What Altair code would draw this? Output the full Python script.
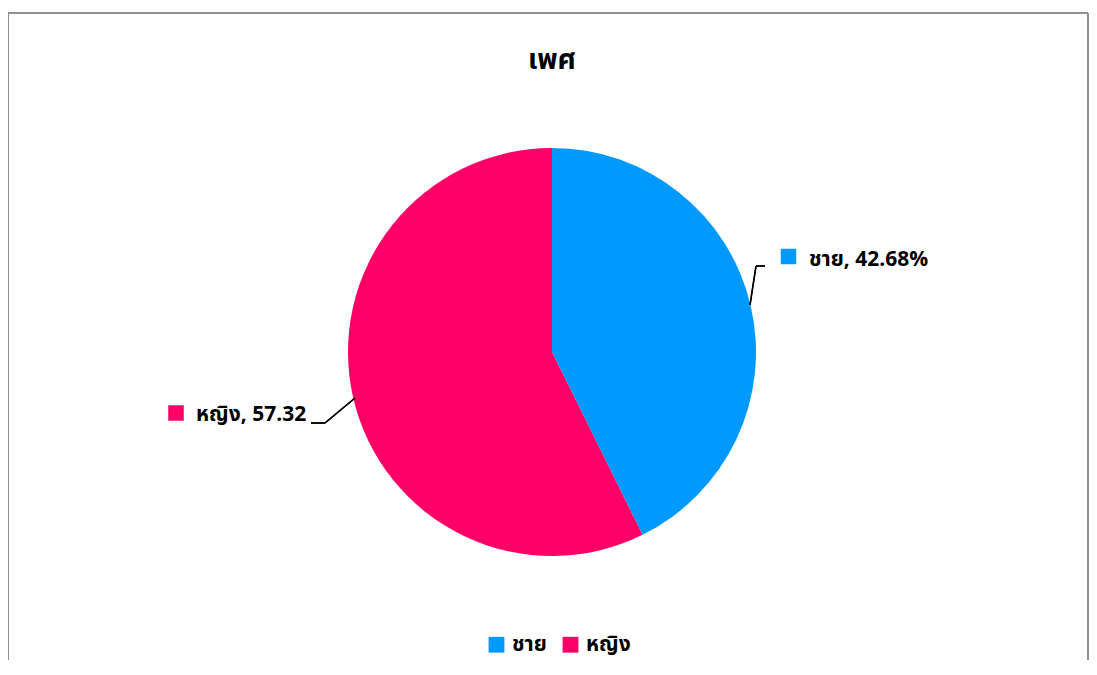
import altair as alt
import pandas as pd

categories = ["ชาย", "หญิง"]
values = [42.68, 57.32]
label_texts = ["ชาย, 42.68%", "หญิง, 57.32"]
colors = ["#0099FF", "#FF0066"]
title_text = "เพศ"

df = pd.DataFrame({"cat": categories, "val": values, "label": label_texts, "idx": [0, 1]})
base = alt.Chart(df)
FONT = "Noto Sans Thai, Noto Sans, sans-serif"

color = alt.Color("cat:N", scale=alt.Scale(domain=categories, range=colors),
                  legend=alt.Legend(title=None, orient="none", legendX=478, legendY=626,
                                    direction="horizontal", symbolType="square",
                                    symbolSize=250, symbolStrokeWidth=0,
                                    labelFontSize=21, labelFont=FONT, labelFontWeight="bold",
                                    labelColor="#000", labelOffset=5, columnPadding=13))

pie = base.mark_arc(outerRadius=204, stroke=None).encode(
    theta=alt.Theta("val:Q", stack=True),
    order=alt.Order("idx:Q"),
    color=color,
    x=alt.value(544), y=alt.value(344),
)

title = alt.Chart(pd.DataFrame({"t": [title_text]})).mark_text(
    font=FONT, fontSize=28, fontWeight="bold", color="#000", baseline="middle", align="center"
).encode(text="t:N", x=alt.value(544), y=alt.value(53))

layers = [pie, title]

# border (left, top, right)
bc = "#909090"
layers.append(alt.Chart(df).mark_rule(color=bc, strokeWidth=2).encode(
    x=alt.value(0), x2=alt.value(1080), y=alt.value(5)))
layers.append(alt.Chart(df).mark_rule(color=bc, strokeWidth=2).encode(
    x=alt.value(0), y=alt.value(5), y2=alt.value(680)))
layers.append(alt.Chart(df).mark_rule(color=bc, strokeWidth=2).encode(
    x=alt.value(1080), y=alt.value(5), y2=alt.value(680)))

# data labels
label_pos = {"ชาย": ((780.5, 248.5), (801, 252)), "หญิง": ((168, 405), (188, 407))}
for cat, ((sx, sy), (tx, ty)) in label_pos.items():
    b = base.transform_filter(alt.datum.cat == cat)
    layers.append(b.mark_square(size=240, opacity=1, filled=True).encode(
        x=alt.value(sx), y=alt.value(sy),
        color=alt.Color("cat:N", scale=alt.Scale(domain=categories, range=colors), legend=None)))
    layers.append(b.mark_text(font=FONT, fontSize=21, fontWeight="bold", color="#000",
                              align="left", baseline="middle").encode(
        text="label:N", x=alt.value(tx), y=alt.value(ty)))

# leader lines
segs = [((742, 297), (748, 258)), ((748, 258), (757, 258)),
        ((347, 390), (317, 415)), ((317, 415), (303, 415))]
for (x1, y1), (x2, y2) in segs:
    layers.append(alt.Chart(df).mark_rule(color="#000", strokeWidth=1.5).encode(
        x=alt.value(x1), y=alt.value(y1), x2=alt.value(x2), y2=alt.value(y2)))

chart = alt.layer(*layers).properties(
    width=1081, height=652, padding=0, autosize=alt.AutoSizeParams(type="none")
).configure_view(stroke=None).resolve_scale(color="shared")

chart.save("out.html", embed_options={"renderer": "svg", "actions": False})
